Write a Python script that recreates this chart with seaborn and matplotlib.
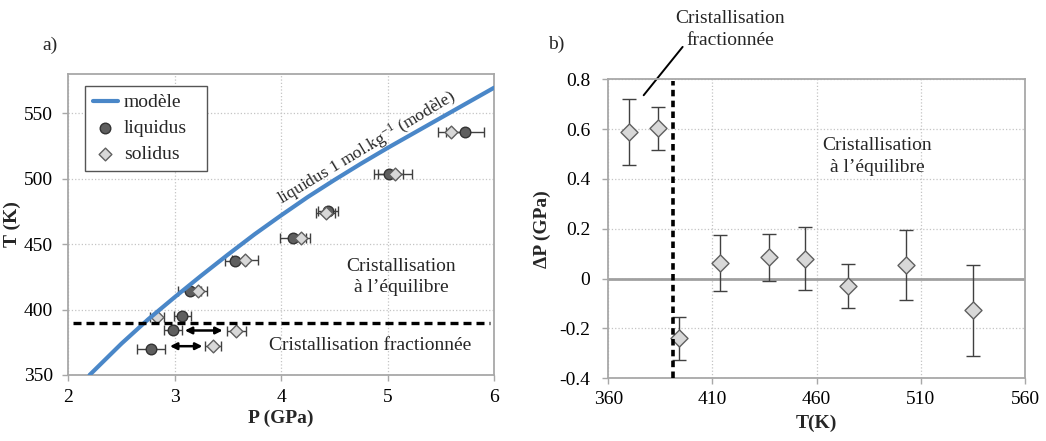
import numpy as np
import pandas as pd
import matplotlib
matplotlib.use("Agg")
import matplotlib.pyplot as plt
from matplotlib.ticker import FuncFormatter
import seaborn as sns

# ---------------- data ----------------
# panel a) model liquidus curve (read from picture)
model_P = [2.2, 2.25, 2.5, 2.75, 3.0, 3.25, 3.5, 3.75, 4.0, 4.25, 4.5,
           4.75, 5.0, 5.25, 5.5, 5.75, 6.0]
model_T = [350, 354, 374, 392.5, 409.5, 426, 442, 457.5, 472, 486, 499,
           511.5, 523.5, 535, 546.5, 558, 569.5]

# liquidus points
liq_P = [2.78, 2.98, 3.07, 3.14, 3.57, 4.11, 4.44, 5.01, 5.73]
liq_T = [370, 384, 395, 414, 437, 454.5, 475.5, 503.5, 535.5]
liq_err = [0.13, 0.085, 0.08, 0.11, 0.095, 0.125, 0.095, 0.135, 0.18]

# solidus points
sol_P = [3.36, 3.58, 2.83, 3.22, 3.66, 4.19, 4.42, 5.07, 5.60]
sol_T = [372.5, 383.5, 394, 414, 438, 454.5, 474, 503.5, 536]
sol_err = [0.075, 0.09, 0.065, 0.08, 0.125, 0.08, 0.09, 0.16, 0.13]

# arrows in fractional-crystallisation zone
arrow_T = [384, 372]
arrow_P0 = [3.095, 2.955]
arrow_P1 = [3.45, 3.26]

limit_T = 390  # fractional / equilibrium boundary

# panel b) pressure difference
dP_T = [370, 384, 394, 413.5, 437, 454.5, 475, 503, 535]
dP = [0.59, 0.603, -0.24, 0.062, 0.086, 0.08, -0.03, 0.055, -0.127]
dP_err = [0.132, 0.085, 0.085, 0.113, 0.094, 0.126, 0.089, 0.142, 0.183]
limit_T_b = 391

# leader line of the "fractionnée" label (T, dP)
leader_T = [377, 395.7]
leader_dP = [0.736, 0.93]

xticks_a = [2, 3, 4, 5, 6]
yticks_a = [350, 400, 450, 500, 550]
xticks_b = [360, 410, 460, 510, 560]
yticks_b = [-0.4, -0.2, 0, 0.2, 0.4, 0.6, 0.8]

# ---------------- style ----------------
sns.set_theme(style="white")
plt.rcParams['font.family'] = ['Liberation Serif', 'DejaVu Serif']
plt.rcParams['mathtext.fontset'] = 'stix'
plt.rcParams['axes.unicode_minus'] = False

FS = 14
BLUE = '#4A87C8'
LIQ_FILL = '#5e5e5e'
LIQ_EDGE = '#333333'
SOL_FILL = '#d8d8d8'
SOL_EDGE = '#606060'
ERR = '#404040'
SPINE = '#a8a8a8'
GRID = '#c4c4c4'

fig = plt.figure(figsize=(10.46, 4.41), dpi=100)
axa = fig.add_axes([0.0653, 0.1497, 0.4070, 0.6825])
axb = fig.add_axes([0.5815, 0.1422, 0.3984, 0.6780])


def style_axes(ax, xpad, ypad):
    for s in ax.spines.values():
        s.set_color(SPINE)
        s.set_linewidth(1.3)
    ax.grid(True, linestyle=':', color=GRID, linewidth=0.9)
    ax.set_axisbelow(True)
    ax.tick_params(axis='both', which='major', direction='out', length=4,
                   width=1, color=SPINE, labelsize=FS, labelcolor='black',
                   bottom=True, left=True)
    ax.tick_params(axis='x', pad=xpad)
    ax.tick_params(axis='y', pad=ypad)


# ---------------- panel a ----------------
style_axes(axa, 6, 7)
sns.lineplot(x=model_P, y=model_T, ax=axa, color=BLUE, linewidth=3.0,
             sort=False, label='modèle', zorder=4)
axa.errorbar(liq_P, liq_T, xerr=liq_err, fmt='none', ecolor=ERR,
             elinewidth=1.0, capsize=3.5, capthick=1.0, zorder=2)
axa.errorbar(sol_P, sol_T, xerr=sol_err, fmt='none', ecolor=ERR,
             elinewidth=1.0, capsize=3.5, capthick=1.0, zorder=2)
sns.scatterplot(x=liq_P, y=liq_T, ax=axa, marker='o', s=58, color=LIQ_FILL,
                edgecolor=LIQ_EDGE, linewidth=1.0, label='liquidus', zorder=3)
sns.scatterplot(x=sol_P, y=sol_T, ax=axa, marker='D', s=42, color=SOL_FILL,
                edgecolor=SOL_EDGE, linewidth=1.0, label='solidus', zorder=3.5)

axa.axhline(limit_T, xmin=0.01, xmax=0.99, color='black', linewidth=2.4,
            dashes=(2.4, 1.5), zorder=5)
for t, p0, p1 in zip(arrow_T, arrow_P0, arrow_P1):
    axa.annotate('', xy=(p1, t), xytext=(p0, t),
                 arrowprops=dict(arrowstyle='<|-|>', color='black', lw=1.8,
                                 mutation_scale=10, shrinkA=0, shrinkB=0))

axa.set_xlim(2, 6)
axa.set_ylim(350, 580)
axa.set_xticks(xticks_a)
axa.set_yticks(yticks_a)
axa.set_xlabel('P (GPa)', fontsize=FS, fontweight='bold', labelpad=3)
axa.set_ylabel('T (K)', fontsize=FS, fontweight='bold', labelpad=2)

axa.text(4.80, 524, 'liquidus 1 mol.kg$^{\\mathregular{-1}}$ (modèle)',
         fontsize=12.5, rotation=31, rotation_mode='anchor',
         ha='center', va='center')
axa.text(5.13, 425, 'Cristallisation\nà l’équilibre', fontsize=FS,
         ha='center', va='center', linespacing=1.35)
axa.text(4.84, 372.5, 'Cristallisation fractionnée', fontsize=FS,
         ha='center', va='center')

leg = axa.legend(loc='upper left', bbox_to_anchor=(0.039, 0.0, 0.287, 0.96),
                 mode='expand', borderaxespad=0, fontsize=FS, frameon=True,
                 fancybox=False, framealpha=1, edgecolor='#555555',
                 handlelength=1.3, handletextpad=0.3, labelspacing=0.42,
                 borderpad=0.4)
leg.get_frame().set_linewidth(1.0)

# ---------------- panel b ----------------
style_axes(axb, 5, 9)
axb.axhline(0, color='#a0a0a0', linewidth=2.0, zorder=1.5)
axb.errorbar(dP_T, dP, yerr=dP_err, fmt='none', ecolor=ERR,
             elinewidth=1.0, capsize=5, capthick=1.0, zorder=2)
sns.scatterplot(x=dP_T, y=dP, ax=axb, marker='D', s=75, color=SOL_FILL,
                edgecolor=SOL_EDGE, linewidth=1.0, zorder=3, legend=False)
axb.axvline(limit_T_b, ymin=0, ymax=0.995, color='black', linewidth=2.6,
            dashes=(1.8, 1.2), zorder=4)

axb.set_xlim(360, 560)
axb.set_ylim(-0.4, 0.8)
axb.set_xticks(xticks_b)
axb.set_yticks(yticks_b)
axb.yaxis.set_major_formatter(FuncFormatter(lambda v, _: '%g' % round(v, 2)))
axb.set_xlabel('T(K)', fontsize=FS, fontweight='bold', labelpad=5)
axb.set_ylabel('ΔP (GPa)', fontsize=FS, fontweight='bold', labelpad=6)

axb.text(489, 0.49, 'Cristallisation\nà l’équilibre', fontsize=FS,
         ha='center', va='center', linespacing=1.35)
axb.text(418.5, 1.0, 'Cristallisation\nfractionnée', fontsize=FS,
         ha='center', va='center', linespacing=1.35, clip_on=False)
axb.plot(leader_T, leader_dP, color='black', lw=1.4, clip_on=False)

fig.text(50 / 1046, 1 - 45 / 441, 'a)', fontsize=FS, ha='center', va='center')
fig.text(556 / 1046, 1 - 44 / 441, 'b)', fontsize=FS, ha='center', va='center')

fig.savefig('out.png', dpi=100)
